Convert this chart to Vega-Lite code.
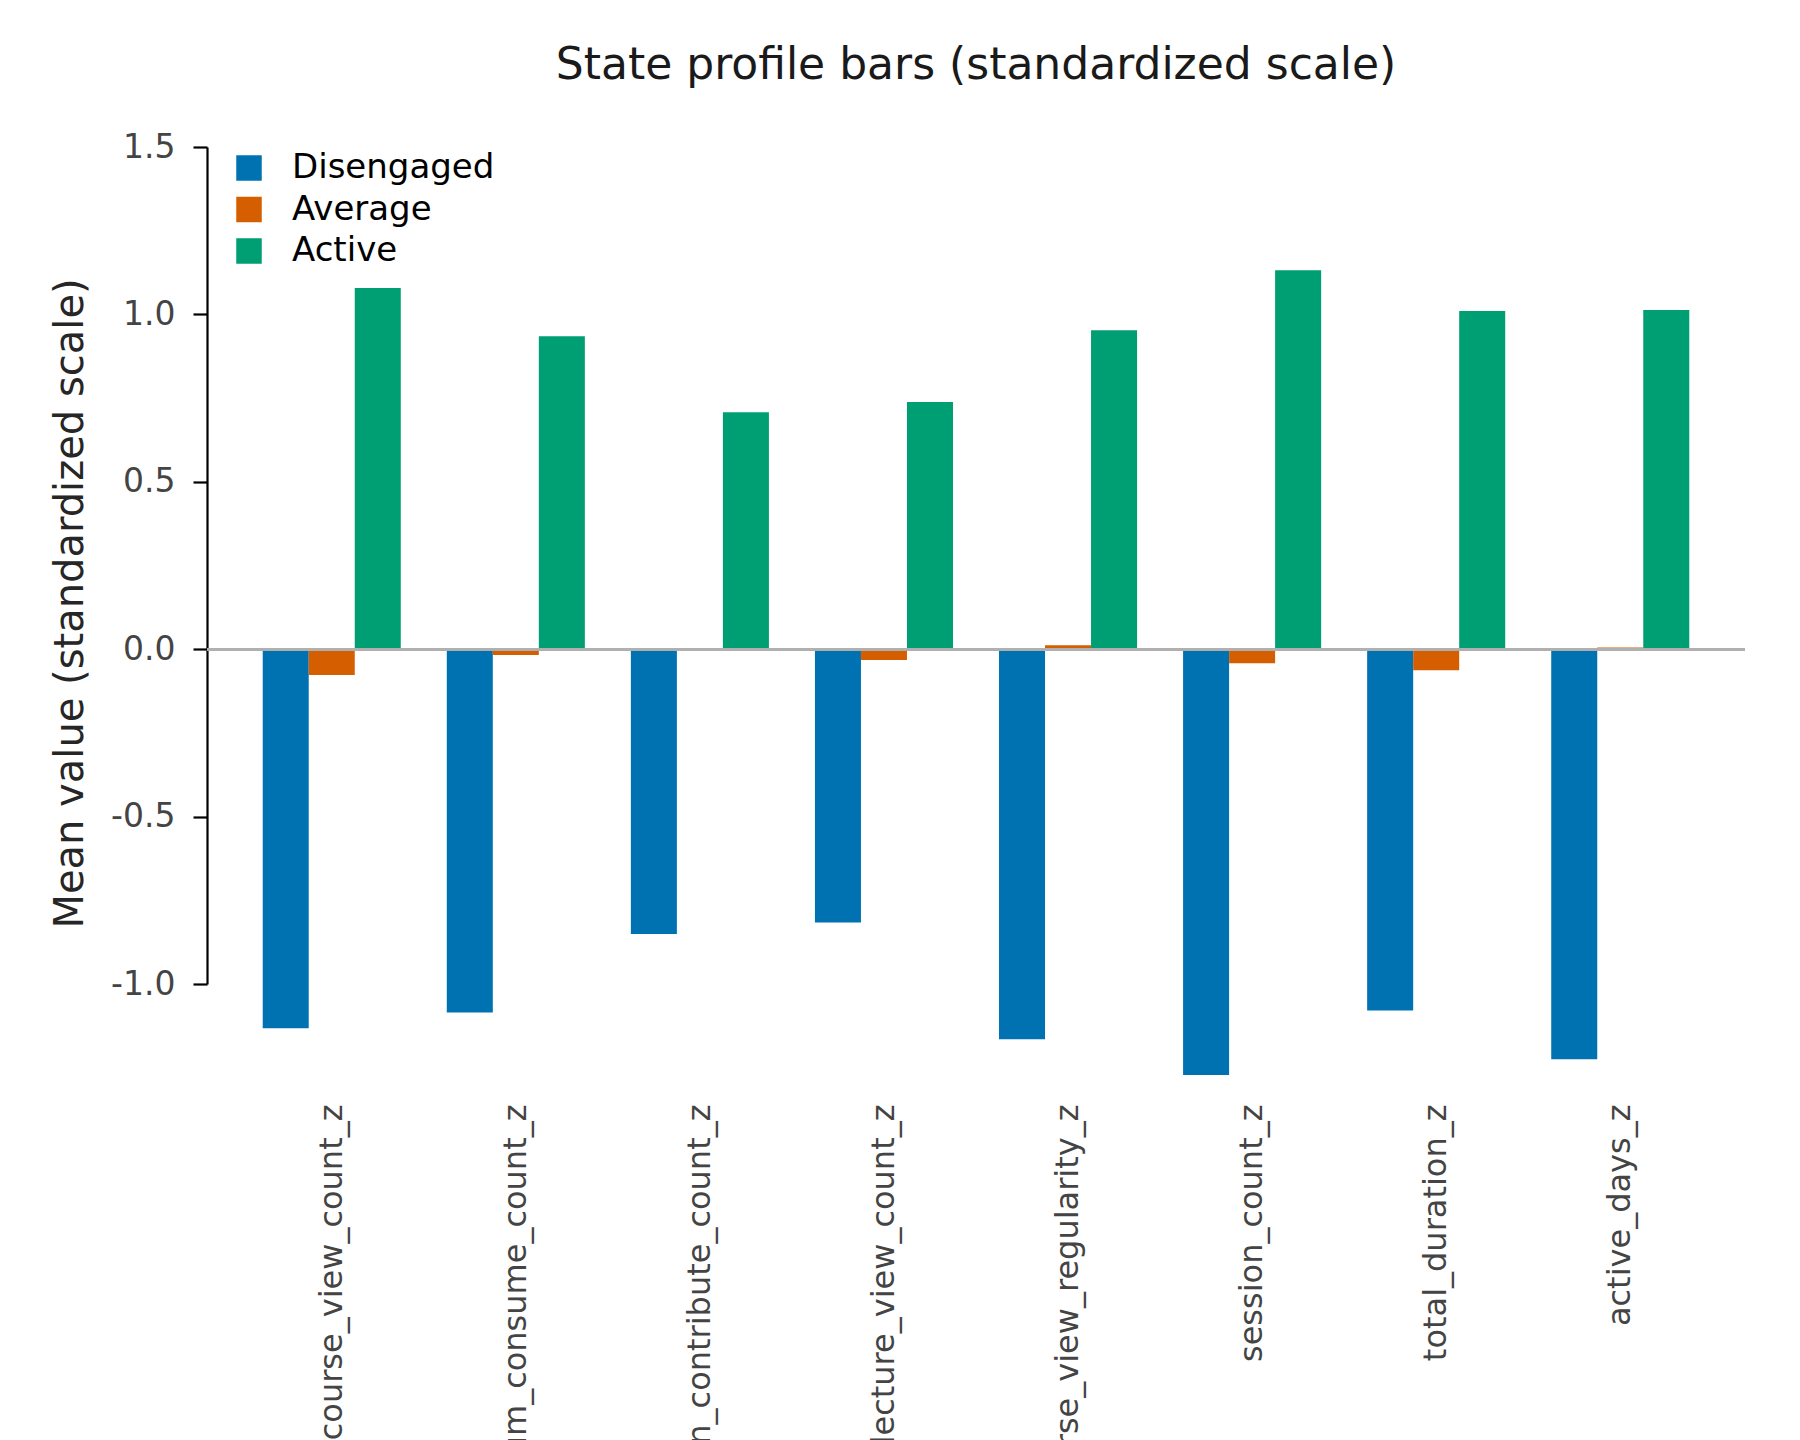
{
  "$schema": "https://vega.github.io/schema/vega-lite/v6.json",
  "autosize": "none",
  "width": 1538,
  "height": 837,
  "padding": {"left": 207, "top": 147, "right": 55, "bottom": 456},
  "background": "white",
  "title": {
    "text": "State profile bars (standardized scale)",
    "font": "DejaVu Sans",
    "fontSize": 44,
    "fontWeight": "normal",
    "color": "#1a1a1a",
    "anchor": "middle",
    "frame": "group",
    "baseline": "alphabetic",
    "offset": 8
  },
  "data": {
    "values": [
      {"feature": "course_view_count_z", "state": "Disengaged", "value": -1.132},
      {"feature": "course_view_count_z", "state": "Average", "value": -0.077},
      {"feature": "course_view_count_z", "state": "Active", "value": 1.079},
      {"feature": "forum_consume_count_z", "state": "Disengaged", "value": -1.085},
      {"feature": "forum_consume_count_z", "state": "Average", "value": -0.017},
      {"feature": "forum_consume_count_z", "state": "Active", "value": 0.935},
      {"feature": "discussion_contribute_count_z", "state": "Disengaged", "value": -0.851},
      {"feature": "discussion_contribute_count_z", "state": "Average", "value": -0.001},
      {"feature": "discussion_contribute_count_z", "state": "Active", "value": 0.708},
      {"feature": "lecture_view_count_z", "state": "Disengaged", "value": -0.816},
      {"feature": "lecture_view_count_z", "state": "Average", "value": -0.032},
      {"feature": "lecture_view_count_z", "state": "Active", "value": 0.738},
      {"feature": "course_view_regularity_z", "state": "Disengaged", "value": -1.165},
      {"feature": "course_view_regularity_z", "state": "Average", "value": 0.012},
      {"feature": "course_view_regularity_z", "state": "Active", "value": 0.953},
      {"feature": "session_count_z", "state": "Disengaged", "value": -1.272},
      {"feature": "session_count_z", "state": "Average", "value": -0.042},
      {"feature": "session_count_z", "state": "Active", "value": 1.132},
      {"feature": "total_duration_z", "state": "Disengaged", "value": -1.079},
      {"feature": "total_duration_z", "state": "Average", "value": -0.063},
      {"feature": "total_duration_z", "state": "Active", "value": 1.010},
      {"feature": "active_days_z", "state": "Disengaged", "value": -1.225},
      {"feature": "active_days_z", "state": "Average", "value": 0.005},
      {"feature": "active_days_z", "state": "Active", "value": 1.013}
    ]
  },
  "layer": [
    {
      "mark": {"type": "bar"},
      "encoding": {
        "x": {
          "field": "feature",
          "type": "nominal",
          "title": null,
          "scale": {
            "domain": ["course_view_count_z", "forum_consume_count_z", "discussion_contribute_count_z", "lecture_view_count_z", "course_view_regularity_z", "session_count_z", "total_duration_z", "active_days_z"],
            "paddingInner": 0.25,
            "paddingOuter": 0.3027
          },
          "axis": {
            "labelAngle": 270,
            "labelFont": "DejaVu Sans",
            "labelFontSize": 32,
            "labelColor": "#444444",
            "labelPadding": 120,
            "labelLimit": 0,
            "labelBound": false,
            "domain": false,
            "ticks": false,
            "tickSize": 0
          }
        },
        "xOffset": {
          "field": "state",
          "type": "nominal",
          "scale": {"domain": ["Disengaged", "Average", "Active"], "paddingInner": 0, "paddingOuter": 0}
        },
        "y": {
          "field": "value",
          "type": "quantitative",
          "title": "Mean value (standardized scale)",
          "scale": {"domain": [-1, 1.5], "nice": false},
          "axis": {
            "values": [-1, -0.5, 0, 0.5, 1, 1.5],
            "labelExpr": "replace(format(datum.value, '.1f'), '\u2212', '-')",
            "grid": false,
            "domainColor": "#000000",
            "domainWidth": 2.2,
            "tickColor": "#000000",
            "tickWidth": 2.2,
            "tickSize": 14,
            "labelFont": "DejaVu Sans",
            "labelFontSize": 33,
            "labelColor": "#444444",
            "labelPadding": 18,
            "titleFont": "DejaVu Sans",
            "titleFontSize": 40,
            "titleFontWeight": "normal",
            "titleColor": "#262626",
            "titleAngle": 270,
            "titleBaseline": "alphabetic",
            "titleX": -125,
            "titleY": 456
          }
        },
        "color": {
          "field": "state",
          "type": "nominal",
          "scale": {"domain": ["Disengaged", "Average", "Active"], "range": ["#0072B2", "#D55E00", "#009E73"]},
          "legend": {
            "title": null,
            "orient": "none",
            "legendX": 25,
            "legendY": 4,
            "symbolType": "square",
            "symbolSize": 650,
            "symbolStrokeWidth": 0,
            "labelFont": "DejaVu Sans",
            "labelFontSize": 34,
            "labelColor": "#000000",
            "labelOffset": 26,
            "labelLimit": 0,
            "rowPadding": 7.5,
            "padding": 0
          }
        }
      }
    },
    {
      "mark": {"type": "rule", "color": "#b0b0b0", "strokeWidth": 2.2},
      "encoding": {"y": {"datum": 0}}
    }
  ],
  "config": {
    "view": {"stroke": null}
  }
}
